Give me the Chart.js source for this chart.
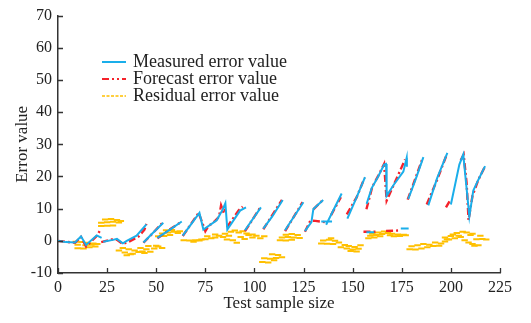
<!DOCTYPE html>
<html>
<head>
<meta charset="utf-8">
<script src="https://cdn.jsdelivr.net/npm/chart.js@4.4.1/dist/chart.umd.min.js"></script>
<style>
  html, body { margin: 0; padding: 0; background: #fff; }
  #wrap { width: 531px; height: 323px; }
</style>
</head>
<body>
<div id="wrap"><canvas id="chart" width="531" height="323"></canvas></div>
<script>
// measured error value, null breaks the line between runs
const measuredX = [0, 4, 8.7, 11.7, 14.3, 19.7, 22.2, null,
  23, 28, 30, 33, 35, 40, 45, null,
  43.5, 48, 53.6, null,
  50.6, 57, 63, null,
  63.5, 72, 74, 80.8, 83.8, 85.2, 86.2, 92.7, 95.7, null,
  95.2, 103.3, null,
  104.5, 109, 114.4, null,
  115.6, 124.9, null,
  125.7, 129, 130, 135, null,
  134, 139.5, null,
  136.5, 144.4, null,
  147.3, 152, 156.3, null,
  157.1, 159.7, 163, 166, 167, 167.3, 171, 175.8, 177.5, 177.6, null,
  157, 161, null,
  174.5, 178.5, null,
  178.3, 182, 186, null,
  188.5, 193, 198.2, null,
  200, 204.3, 206.3, 209.4, 211.4, 214, 217.4];
const measuredY = [0, -0.4, -0.5, 1.4, -1.3, 1.7, 0.9, null,
  -0.3, 0.3, 0.6, -0.8, 0, 1.6, 5.1, null,
  -0.5, 2.3, 5.6, null,
  0.9, 3.5, 6, null,
  1.6, 8.7, 3.5, 6.4, 9.7, 11.7, 3.5, 9.4, 10.4, null,
  3.3, 10.4, null,
  3.8, 7.5, 12.7, null,
  3.3, 12, null,
  3, 5.8, 9.9, 12.7, null,
  6, 6, null,
  5, 14.7, null,
  6.9, 13.5, 19.8, null,
  11.5, 16.4, 20, 23.7, 23.9, 14, 17.5, 21.5, 25.8, 23, null,
  2.7, 2.7, null,
  3.8, 3.8, null,
  13, 19, 26, null,
  11, 19.5, 27.3, null,
  11.3, 23.7, 26.8, 7.6, 15.6, 19, 23.2];

// forecast error value
const forecastX = [0, 4, 8.7, 11.7, 14.3, 19.7, 21.5, null,
  22, 28, 30, 33, 36, 41, 44, 45, null,
  43.5, 48, 53, null,
  50.6, 57, 62, null,
  63.5, 71.6, 75, 76.5, 80, 82, 83, 84.5, 85, null,
  86, 92, 94, null,
  95.2, 103, null,
  104.5, 114, null,
  115.6, 124.5, null,
  125.7, 128.5, 131, 136, null,
  130, 135, null,
  139, 144, null,
  147, 152, 156, null,
  157, 160, 163, 166, 167.3, 171, 176.7, null,
  155.5, 162, null,
  167, 174, null,
  178, 182, 185.5, null,
  187.7, 193, 198, null,
  197.5, 200, null,
  205, 206.5, 208, 209, 211, 214, 217.4];
const forecastY = [0, -0.3, -0.6, 1.2, -1.8, 1.5, 3.3, null,
  -0.4, 0.5, 0.3, -1, -0.3, 1.3, 3.5, 5.3, null,
  -0.6, 2.2, 5.5, null,
  0.8, 3.6, 5.6, null,
  1.5, 8.7, 3, 4.5, 6.2, 7.5, 11, 8.5, 10, null,
  4.2, 9.5, 10.6, null,
  3, 10.4, null,
  3.6, 12.7, null,
  3, 12, null,
  2.8, 6.3, 6.2, 5.8, null,
  9.8, 12.8, null,
  8, 13.6, null,
  8.2, 13.5, 19.5, null,
  9.8, 16.8, 20.2, 23.9, 12.5, 17.5, 25.3, null,
  2.8, 2.8, null,
  3.1, 3.2, null,
  12.8, 19.5, 25.5, null,
  11.3, 19, 27, null,
  10.4, 13, null,
  25, 26.8, 18, 6.5, 14, 19, 23.2];

// residual error value
const residualX = [
  9, 12, 15, 18, 10, 14, 17, 20, 10, 13, 16, 19,
  22, 25, 28, 22, 25, 28, 31, 24, 27, 30, 32,
  31, 34, 37, 33, 36, 39, 41, 43, 45, 47, 49, 51, 53, 42, 46, 50, 38, 44, 35,
  51, 54, 57, 53, 56, 59, 61, 55, 58, 62,
  64, 67, 70, 73, 75, 78, 76, 80, 82, 84, 80, 85, 87, 88, 90, 92, 94, 89, 91, 95, 97, 99, 101, 103, 105, 96, 86, 93, 99, 69, 72,
  104, 107, 105, 108, 111, 114, 109, 112, 110,
  113, 116, 119, 114, 117, 120, 123, 116, 119, 122,
  134, 137, 135, 138, 141, 140, 143, 146, 139, 144, 147, 150, 148, 151, 153, 149, 152, 154,
  158, 161, 164, 159, 162, 165, 168, 163, 166, 170, 173, 176, 171, 174, 177, 160, 169,
  179, 182, 185, 180, 183, 186, 189, 188, 191, 194, 192, 195, 197, 198,
  197, 200, 199, 202, 204, 203, 206, 208, 205, 207, 210, 211, 209, 212, 214, 213, 216, 218, 215, 211, 201];
const residualY = [
  -0.3, -0.4, -0.6, -0.8, -1.2, -1.4, -1.2, -1, -2.3, -2.4, -2, -1.8,
  4.6, 4.7, 4.8, 5.6, 5.8, 5.9, 5.7, 6.6, 6.8, 6.5, 6.2,
  -3, -3.6, -4.2, -2.2, -2.6, -3, -3.5, -3.3, -2.6, -3.4, -2.4, -1.8, -2.2, -2.2, -1.6, -1.5, -4, -3.8, -4.5,
  1.4, 1.5, 1.8, 2.3, 2.6, 2.8, 2.4, 3.3, 3.4, 3,
  0.2, 0.1, 0.2, 0.4, 0.5, 0.8, 1.4, 1, 1.6, 1.2, 2, 2.2, 1.6, 2.8, 3.2, 2.6, 3, 0.2, -0.6, 0.6, 1.8, 1, 1.6, 0.8, 1.4, 2.3, 0.4, 1.2, 2, -0.3, 0.1,
  -6.6, -6.7, -5.4, -5.6, -5.3, -5.1, -4.2, -4.4, -6,
  0.2, 0.1, 0.3, 1, 1.2, 1, 0.9, 1.9, 2.1, 1.8,
  -0.8, -0.9, 0.1, 0.3, 0, -1, -0.5, -1.3, 0.8, -2, -2.4, -2.7, -1.6, -1.9, -2.5, -3.2, -3.3, -1.4,
  0.8, 1, 1.4, 1.6, 1.8, 2.1, 2.4, 2.6, 2.9, 2.2, 2, 1.9, 1.4, 1.5, 1.7, 2.2, 1.7,
  -2.6, -2.7, -2.4, -1.7, -1.4, -1, -1.2, -2, -1.6, -1.5, -0.5, -0.8, -0.2, 0.5,
  1, 1.5, 0.4, 0.8, 1.6, 2.4, 2.8, 2.6, 1.2, 0.2, 1.8, 2.2, -0.5, -1.5, -1.4, 0.5, 0.6, 0.4, 1.6, -1, 2];

const xTicks = [0, 25, 50, 75, 100, 125, 150, 175, 200, 225];
const yTicks = [-10, 0, 10, 20, 30, 40, 50, 60, 70];

const seriesNames = ['Measured error value', 'Forecast error value', 'Residual error value'];
const seriesColors = ['#1aaeea', '#f5222a', '#ffc000'];

const FONT = 'Liberation Serif';

function points(xs, ys) {
  return xs.map((x, i) => ({ x: x, y: ys[i] }));
}

// ticks point into the plot area
const innerTicks = {
  id: 'innerTicks',
  afterDatasetsDraw(chart) {
    const { ctx, chartArea: a, scales: { x, y } } = chart;
    ctx.save();
    ctx.strokeStyle = '#333';
    ctx.lineWidth = 1.3;
    ctx.beginPath();
    xTicks.forEach(v => {
      const px = Math.round(x.getPixelForValue(v)) + 0.5;
      ctx.moveTo(px, a.bottom);
      ctx.lineTo(px, a.bottom - 5);
    });
    yTicks.forEach(v => {
      const py = Math.round(y.getPixelForValue(v)) + 0.5;
      ctx.moveTo(a.left, py);
      ctx.lineTo(a.left + 5, py);
    });
    ctx.stroke();
    ctx.restore();
  }
};

// legend block inside the plot
const lineLegend = {
  id: 'lineLegend',
  afterDraw(chart) {
    const { ctx } = chart;
    const rows = [62, 79, 96];
    const dashes = [[], [7, 3, 2, 3, 2, 3], [3, 1.5]];
    ctx.save();
    ctx.font = '18px "' + FONT + '"';
    ctx.textBaseline = 'middle';
    rows.forEach((yy, i) => {
      ctx.strokeStyle = seriesColors[i];
      ctx.lineWidth = i === 2 ? 1.5 : 2;
      ctx.setLineDash(dashes[i]);
      ctx.beginPath();
      ctx.moveTo(102, yy);
      ctx.lineTo(126, yy);
      ctx.stroke();
      ctx.setLineDash([]);
      ctx.fillStyle = '#222';
      ctx.fillText(seriesNames[i], 133, yy);
    });
    ctx.restore();
  }
};

new Chart(document.getElementById('chart').getContext('2d'), {
  type: 'line',
  data: {
    datasets: [
      {
        label: seriesNames[0],
        data: points(measuredX, measuredY),
        borderColor: seriesColors[0],
        borderWidth: 2,
        pointRadius: 0,
        spanGaps: false
      },
      {
        label: seriesNames[1],
        data: points(forecastX, forecastY),
        borderColor: seriesColors[1],
        borderWidth: 2.4,
        borderDash: [7, 3, 2, 3],
        pointRadius: 0,
        spanGaps: false
      },
      {
        label: seriesNames[2],
        data: points(residualX, residualY),
        showLine: false,
        pointStyle: 'line',
        pointRadius: 3.2,
        pointBorderWidth: 2,
        borderColor: seriesColors[2],
        backgroundColor: seriesColors[2]
      }
    ]
  },
  options: {
    responsive: false,
    animation: false,
    layout: { padding: { top: 13, right: 31, left: 0, bottom: 0 } },
    plugins: { legend: { display: false }, tooltip: { enabled: false } },
    scales: {
      x: {
        type: 'linear',
        min: 0,
        max: 225,
        afterFit: s => { s.height = 50; },
        afterBuildTicks: s => { s.ticks = xTicks.map(v => ({ value: v })); },
        grid: { display: false, drawTicks: false },
        border: { display: true, color: '#333', width: 1.5 },
        ticks: { color: '#222', padding: 5, maxRotation: 0, font: { family: FONT, size: 16 } },
        title: {
          display: true,
          text: 'Test sample size',
          color: '#222',
          font: { family: FONT, size: 17 },
          padding: { top: 0, bottom: 9 }
        }
      },
      y: {
        min: -10,
        max: 70,
        afterFit: s => { s.width = 58; },
        afterBuildTicks: s => { s.ticks = yTicks.map(v => ({ value: v })); },
        grid: { display: false, drawTicks: false },
        border: { display: true, color: '#333', width: 1.5 },
        ticks: { color: '#222', padding: 6, font: { family: FONT, size: 16 } },
        title: {
          display: true,
          text: 'Error value',
          color: '#222',
          font: { family: FONT, size: 17 },
          padding: { top: 12, bottom: 0 }
        }
      }
    }
  },
  plugins: [innerTicks, lineLegend]
});
</script>
</body>
</html>
